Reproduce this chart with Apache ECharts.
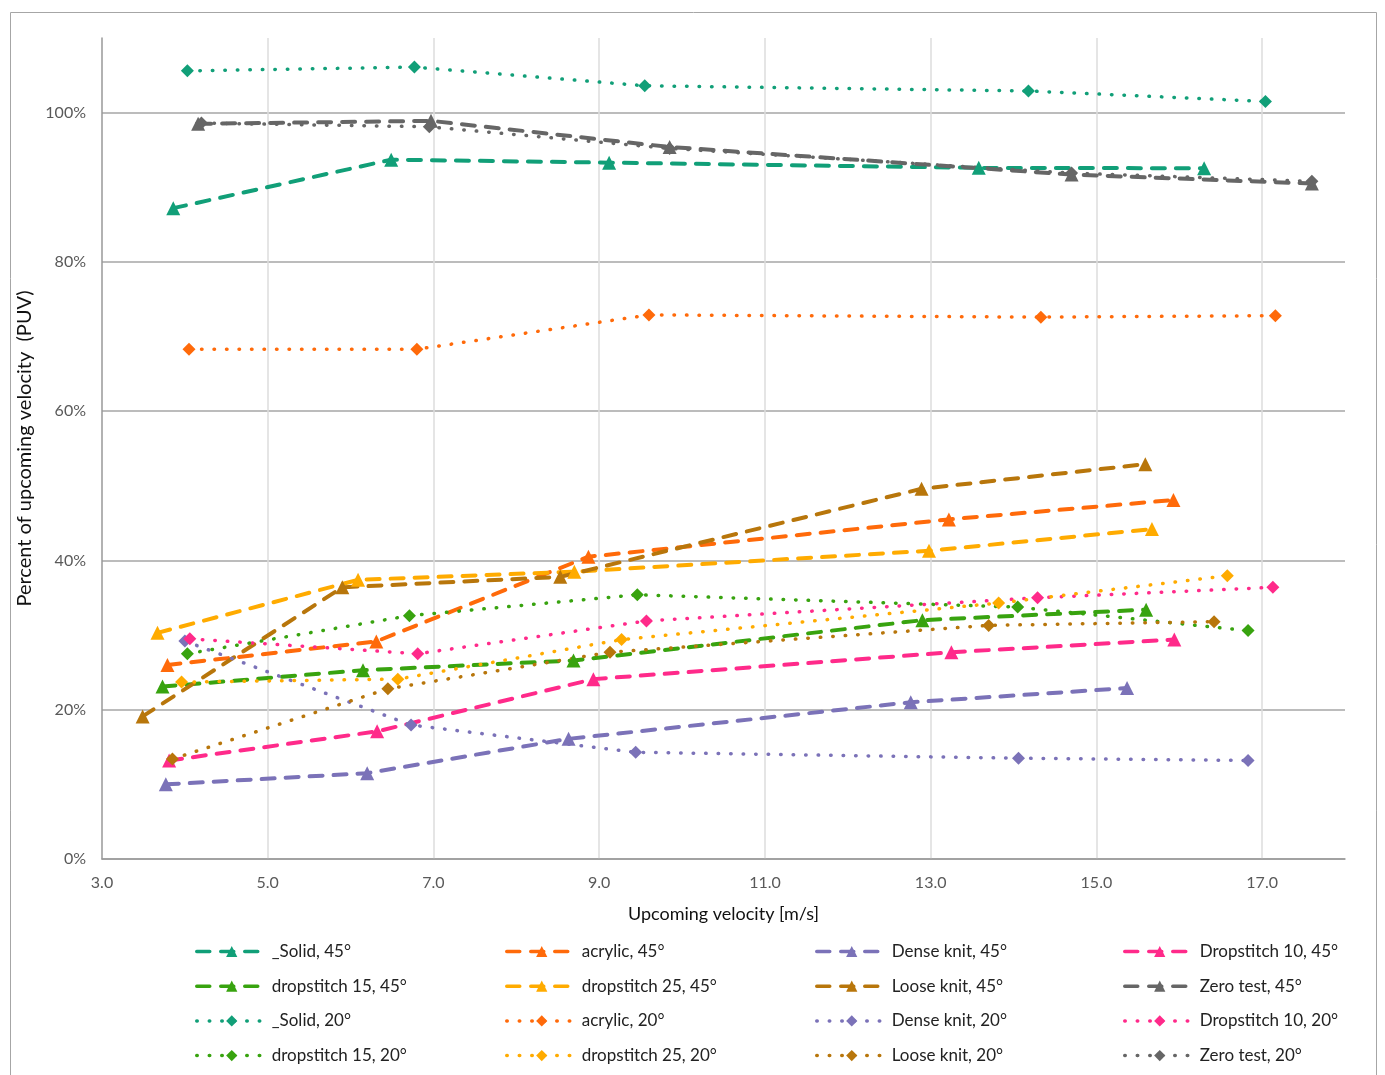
<!DOCTYPE html>
<html>
<head>
<meta charset="utf-8">
<script src="https://cdn.jsdelivr.net/npm/echarts@6/dist/echarts.min.js"></script>
<style>
  html, body { margin: 0; padding: 0; background: #fff; }
  #main { width: 1385px; height: 1075px; }
</style>
</head>
<body>
<div id="main"></div>
<script>
// x = upcoming velocity [m/s], y = percent of upcoming velocity
var solid45X = [3.86, 6.49, 9.12, 13.58, 16.30];
var solid45Y = [87.2, 93.7, 93.3, 92.6, 92.55];
var solid20X = [4.03, 6.77, 9.55, 14.18, 17.04];
var solid20Y = [105.6, 106.1, 103.6, 102.9, 101.5];

var acrylic45X = [3.79, 6.31, 8.87, 13.22, 15.93];
var acrylic45Y = [26.0, 29.15, 40.5, 45.5, 48.1];
var acrylic20X = [4.05, 6.80, 9.60, 14.33, 17.16];
var acrylic20Y = [68.3, 68.3, 72.9, 72.6, 72.8];

var dense45X = [3.77, 6.20, 8.63, 12.76, 15.37];
var dense45Y = [10.0, 11.5, 16.1, 21.0, 22.9];
var dense20X = [4.00, 6.73, 9.44, 14.06, 16.83];
var dense20Y = [29.2, 17.95, 14.3, 13.5, 13.2];

var ds10_45X = [3.81, 6.32, 8.93, 13.25, 15.94];
var ds10_45Y = [13.2, 17.1, 24.1, 27.7, 29.4];
var ds10_20X = [4.06, 6.81, 9.57, 14.29, 17.13];
var ds10_20Y = [29.5, 27.5, 31.9, 35.0, 36.4];

var ds15_45X = [3.73, 6.15, 8.69, 12.90, 15.60];
var ds15_45Y = [23.1, 25.3, 26.6, 32.0, 33.4];
var ds15_20X = [4.03, 6.71, 9.46, 14.05, 16.83];
var ds15_20Y = [27.5, 32.6, 35.4, 33.75, 30.6];

var ds25_45X = [3.67, 6.09, 8.70, 12.98, 15.67];
var ds25_45Y = [30.3, 37.4, 38.5, 41.3, 44.2];
var ds25_20X = [3.96, 6.57, 9.27, 13.82, 16.58];
var ds25_20Y = [23.7, 24.1, 29.4, 34.3, 37.95];

var loose45X = [3.49, 5.90, 8.53, 12.89, 15.59];
var loose45Y = [19.1, 36.4, 37.8, 49.6, 52.9];
var loose20X = [3.85, 6.45, 9.13, 13.70, 16.42];
var loose20Y = [13.4, 22.8, 27.7, 31.3, 31.8];

var zero45X = [4.16, 6.97, 9.85, 14.70, 17.60];
var zero45Y = [98.5, 98.9, 95.4, 91.7, 90.5];
var zero20X = [4.20, 6.95, 9.85, 14.70, 17.60];
var zero20Y = [98.6, 98.1, 95.2, 91.9, 90.8];

var colors = {
  solid: '#119f78',
  acrylic: '#ff6a0a',
  dense: '#7b72b8',
  ds10: '#ff2a8a',
  ds15: '#38a30f',
  ds25: '#ffab00',
  loose: '#b8760b',
  zero: '#666666'
};

function mk(name, xs, ys, color, is45) {
  return {
    name: name,
    type: 'line',
    data: xs.map(function (x, i) { return [x, ys[i]]; }),
    symbol: is45 ? 'triangle' : 'diamond',
    symbolSize: is45 ? 14 : 13,
    itemStyle: { color: color },
    lineStyle: is45
      ? { color: color, width: 4, type: [13, 11], cap: 'round' }
      : { color: color, width: 3.5, type: [0.5, 12], cap: 'round' },
    animation: false
  };
}

var series = [
  mk('_Solid, 45°', solid45X, solid45Y, colors.solid, true),
  mk('acrylic, 45°', acrylic45X, acrylic45Y, colors.acrylic, true),
  mk('Dense knit, 45°', dense45X, dense45Y, colors.dense, true),
  mk('Dropstitch 10, 45°', ds10_45X, ds10_45Y, colors.ds10, true),
  mk('dropstitch 15, 45°', ds15_45X, ds15_45Y, colors.ds15, true),
  mk('dropstitch 25, 45°', ds25_45X, ds25_45Y, colors.ds25, true),
  mk('Loose knit, 45°', loose45X, loose45Y, colors.loose, true),
  mk('Zero test, 45°', zero45X, zero45Y, colors.zero, true),
  mk('_Solid, 20°', solid20X, solid20Y, colors.solid, false),
  mk('acrylic, 20°', acrylic20X, acrylic20Y, colors.acrylic, false),
  mk('Dense knit, 20°', dense20X, dense20Y, colors.dense, false),
  mk('Dropstitch 10, 20°', ds10_20X, ds10_20Y, colors.ds10, false),
  mk('dropstitch 15, 20°', ds15_20X, ds15_20Y, colors.ds15, false),
  mk('dropstitch 25, 20°', ds25_20X, ds25_20Y, colors.ds25, false),
  mk('Loose knit, 20°', loose20X, loose20Y, colors.loose, false),
  mk('Zero test, 20°', zero20X, zero20Y, colors.zero, false)
];

var legendCols = [
  ['_Solid, 45°', 'dropstitch 15, 45°', '_Solid, 20°', 'dropstitch 15, 20°'],
  ['acrylic, 45°', 'dropstitch 25, 45°', 'acrylic, 20°', 'dropstitch 25, 20°'],
  ['Dense knit, 45°', 'Loose knit, 45°', 'Dense knit, 20°', 'Loose knit, 20°'],
  ['Dropstitch 10, 45°', 'Zero test, 45°', 'Dropstitch 10, 20°', 'Zero test, 20°']
];
var legendLeft = [195, 505, 815, 1123];

var legends = legendCols.map(function (names, i) {
  return {
    data: names,
    orient: 'vertical',
    left: legendLeft[i],
    top: 943,
    height: 130,
    itemWidth: 70,
    itemHeight: 14,
    itemGap: 17.7,
    padding: 0,
    selectedMode: false,
    lineStyle: { width: 3.5 },
    textStyle: { fontFamily: 'Lato', fontSize: 17, color: '#222' }
  };
});

var chart = echarts.init(document.getElementById('main'));
var option = {
  backgroundColor: '#fff',
  animation: false,
  textStyle: { fontFamily: 'Lato' },
  graphic: [{
    type: 'rect',
    shape: { x: 10.5, y: 12.5, width: 1366, height: 1080 },
    style: { fill: 'none', stroke: '#a6a6a6', lineWidth: 1 },
    silent: true
  }],
  grid: { left: 102, right: 40, top: 38, bottom: 216 },
  legend: legends,
  xAxis: {
    type: 'value',
    min: 3,
    max: 18,
    interval: 2,
    name: 'Upcoming velocity [m/s]',
    nameLocation: 'middle',
    nameGap: 46,
    nameTextStyle: { fontFamily: 'Lato', fontSize: 18, color: '#111' },
    axisLine: { lineStyle: { color: '#999', width: 1.5 } },
    axisTick: { show: false },
    axisLabel: {
      showMaxLabel: false,
      margin: 16,
      fontSize: 16,
      color: '#595959',
      formatter: function (v) { return v.toFixed(1); }
    },
    splitLine: { show: true, showMinLine: false, showMaxLine: false, lineStyle: { color: '#dcdcdc', width: 1.5 } }
  },
  yAxis: {
    type: 'value',
    min: 0,
    max: 110,
    interval: 20,
    name: 'Percent of upcoming velocity  (PUV)',
    nameLocation: 'middle',
    nameGap: 62,
    nameTextStyle: { fontFamily: 'Lato', fontSize: 20, color: '#111' },
    axisLine: { show: true, lineStyle: { color: '#999', width: 1.5 } },
    axisTick: { show: false },
    axisLabel: {
      showMaxLabel: false,
      margin: 16,
      fontSize: 16,
      color: '#595959',
      formatter: '{value}%'
    },
    splitLine: { show: true, showMaxLine: false, lineStyle: { color: '#a6a6a6', width: 1.5 } }
  },
  series: series
};
chart.setOption(option);
</script>
</body>
</html>
